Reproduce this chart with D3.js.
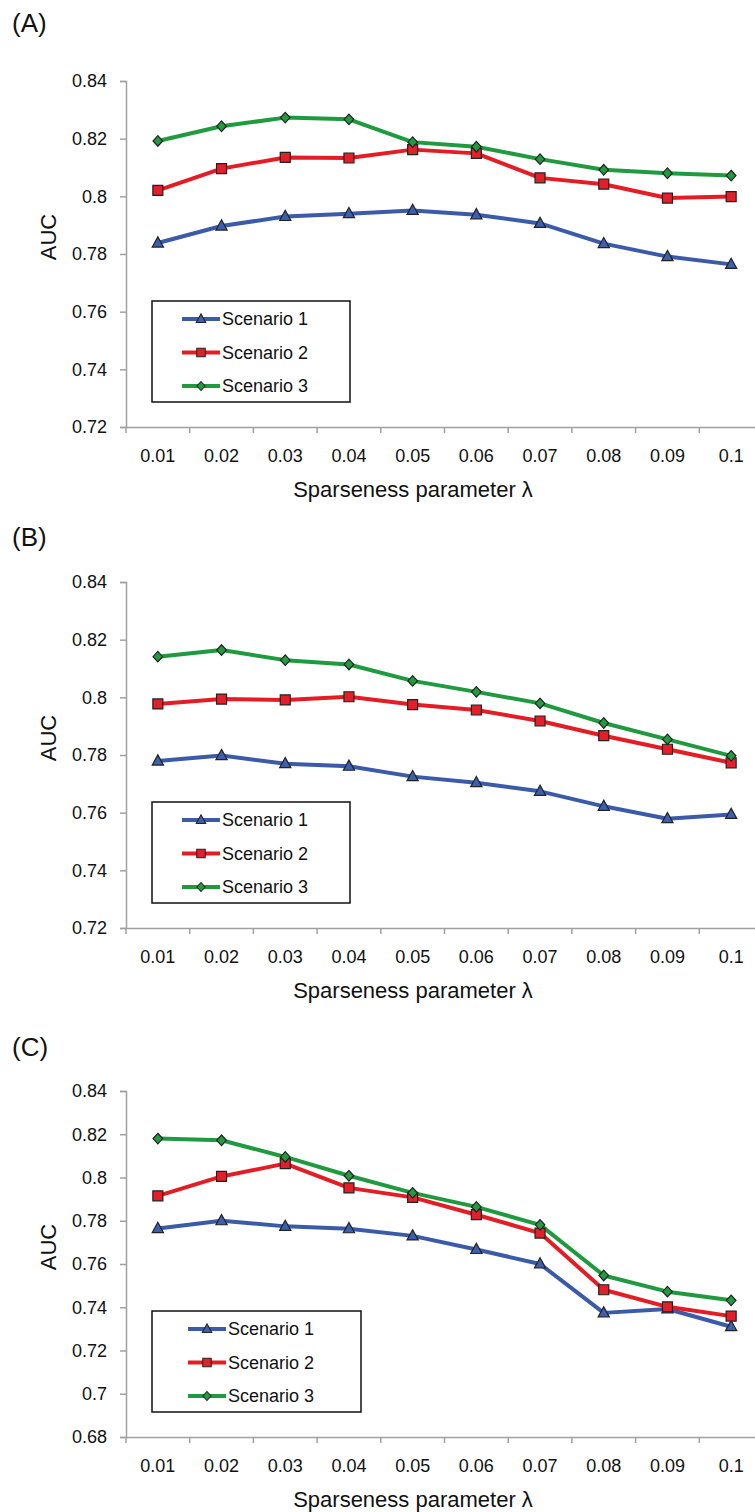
<!DOCTYPE html>
<html>
<head>
<meta charset="utf-8">
<script src="https://cdn.jsdelivr.net/npm/d3@7"></script>
<style>
  body { margin: 0; background: #fff; }
  text { font-family: "Liberation Sans", Arial, sans-serif; fill: #111; }
</style>
</head>
<body>
<svg id="chart" width="755" height="1512"></svg>
<script>
// lambda values on the x axis
const lambdas = ["0.01", "0.02", "0.03", "0.04", "0.05", "0.06", "0.07", "0.08", "0.09", "0.1"];
const seriesNames = ["Scenario 1", "Scenario 2", "Scenario 3"];

// (A)
const aucA1 = [0.7838, 0.7897, 0.7930, 0.7940, 0.7951, 0.7936, 0.7906, 0.7836, 0.7791, 0.7764];
const aucA2 = [0.8021, 0.8096, 0.8135, 0.8133, 0.8162, 0.8149, 0.8064, 0.8042, 0.7994, 0.7999];
const aucA3 = [0.8192, 0.8243, 0.8273, 0.8267, 0.8188, 0.8172, 0.8129, 0.8092, 0.8080, 0.8072];
// (B)
const aucB1 = [0.7779, 0.7798, 0.7770, 0.7761, 0.7725, 0.7704, 0.7674, 0.7622, 0.7579, 0.7594];
const aucB2 = [0.7977, 0.7994, 0.7991, 0.8002, 0.7975, 0.7956, 0.7918, 0.7867, 0.7820, 0.7773];
const aucB3 = [0.8141, 0.8164, 0.8129, 0.8114, 0.8057, 0.8019, 0.7979, 0.7911, 0.7854, 0.7797];
// (C)
const aucC1 = [0.7764, 0.7800, 0.7774, 0.7763, 0.7730, 0.7667, 0.7600, 0.7374, 0.7392, 0.7310];
const aucC2 = [0.7915, 0.8005, 0.8064, 0.7952, 0.7908, 0.7828, 0.7743, 0.7481, 0.7402, 0.7359];
const aucC3 = [0.8180, 0.8172, 0.8095, 0.8008, 0.7929, 0.7864, 0.7781, 0.7547, 0.7472, 0.7432];

const yTicksAB = [0.72, 0.74, 0.76, 0.78, 0.8, 0.82, 0.84];
const yTicksC = [0.68, 0.7, 0.72, 0.74, 0.76, 0.78, 0.8, 0.82, 0.84];

const colors = ["#3b5ba8", "#e41d25", "#1f9a3e"];
const markerFill = ["#3d5fae", "#e3202a", "#229a40"];

// layout per panel
const panels = [
  { tag: "(A)", tagY: 32, top: 81, domain: [0.72, 0.84], ticks: yTicksAB, data: [aucA1, aucA2, aucA3],
    legend: { x: 152, w: 198, lineX: 182 } },
  { tag: "(B)", tagY: 546, top: 582, domain: [0.72, 0.84], ticks: yTicksAB, data: [aucB1, aucB2, aucB3],
    legend: { x: 152, w: 198, lineX: 182 } },
  { tag: "(C)", tagY: 1056, top: 1091, domain: [0.68, 0.84], ticks: yTicksC, data: [aucC1, aucC2, aucC3],
    legend: { x: 152, w: 209, lineX: 188 } }
];

const left = 126, plotH = 346, step = 63.7;
const svg = d3.select("#chart");
svg.append("rect").attr("width", 755).attr("height", 1512).attr("fill", "#fff");

const markerPath = [
  "M0,-6.2L5.6,4L-5.6,4Z",
  "M-5,-5H5V5H-5Z",
  "M0,-5.3L4.8,0L0,5.3L-4.8,0Z"
];

function drawMarker(g, i, x, y, k) {
  g.append("path")
    .attr("d", markerPath[i])
    .attr("transform", `translate(${x},${y}) scale(${k || 1})`)
    .attr("fill", markerFill[i])
    .attr("stroke", "#222")
    .attr("stroke-width", 1.2);
}

panels.forEach(p => {
  svg.append("text")
    .attr("x", 12).attr("y", p.tagY)
    .style("font-size", "26px")
    .text(p.tag);

  const g = svg.append("g").attr("transform", `translate(${left},${p.top})`);

  const x = d3.scaleBand().domain(lambdas).range([0, step * lambdas.length]).padding(0);
  const y = d3.scaleLinear().domain(p.domain).range([plotH, 0]);

  // y axis
  const yAxis = g.append("g")
    .call(d3.axisLeft(y).tickValues(p.ticks).tickSize(6).tickPadding(13).tickFormat(d3.format("~g")));
  yAxis.select(".domain").attr("stroke", "#a0a0a0").attr("stroke-width", 1.5);
  yAxis.selectAll(".tick line").attr("stroke", "#a0a0a0").attr("stroke-width", 1.5);
  yAxis.selectAll(".tick text").style("font-size", "18px").attr("fill", "#111");

  // x axis: labels centred on bands, ticks at band edges
  const xAxis = g.append("g")
    .attr("transform", `translate(0,${plotH})`)
    .call(d3.axisBottom(x).tickSize(0).tickPadding(22));
  xAxis.select(".domain").attr("stroke", "#a0a0a0").attr("stroke-width", 1.5);
  xAxis.selectAll(".tick text").style("font-size", "18px").attr("fill", "#111");
  g.selectAll(".xedge")
    .data(lambdas)
    .enter()
    .append("line")
    .attr("x1", d => x(d))
    .attr("x2", d => x(d))
    .attr("y1", plotH)
    .attr("y2", plotH + 6)
    .attr("stroke", "#a0a0a0")
    .attr("stroke-width", 1.5);

  g.append("text")
    .attr("x", 287).attr("y", plotH + 70)
    .attr("text-anchor", "middle")
    .style("font-size", "22px")
    .text("Sparseness parameter λ");

  g.append("text")
    .attr("transform", `translate(-78,156) rotate(-90)`)
    .attr("text-anchor", "middle")
    .attr("dominant-baseline", "central")
    .style("font-size", "22px")
    .text("AUC");

  const line = d3.line()
    .x((d, i) => x(lambdas[i]) + x.bandwidth() / 2)
    .y(d => y(d));

  p.data.forEach((vals, si) => {
    g.append("path")
      .datum(vals)
      .attr("d", line)
      .attr("fill", "none")
      .attr("stroke", colors[si])
      .attr("stroke-width", 4)
      .attr("stroke-linejoin", "round");
  });
  p.data.forEach((vals, si) => {
    vals.forEach((v, i) => drawMarker(g, si, x(lambdas[i]) + x.bandwidth() / 2, y(v)));
  });

  // legend
  const lg = svg.append("g").attr("transform", `translate(${p.legend.x},${p.top + 220})`);
  lg.append("rect")
    .attr("width", p.legend.w).attr("height", 101)
    .attr("fill", "#fff").attr("stroke", "#111").attr("stroke-width", 1.5);
  seriesNames.forEach((name, si) => {
    const ly = 18 + si * 33.5;
    const lx = p.legend.lineX - p.legend.x;
    lg.append("line")
      .attr("x1", lx).attr("x2", lx + 38)
      .attr("y1", ly).attr("y2", ly)
      .attr("stroke", colors[si]).attr("stroke-width", 4);
    drawMarker(lg, si, lx + 19, ly, 0.85);
    lg.append("text")
      .attr("x", lx + 40).attr("y", ly)
      .attr("dominant-baseline", "central")
      .style("font-size", "18px")
      .text(name);
  });
});
</script>
</body>
</html>
